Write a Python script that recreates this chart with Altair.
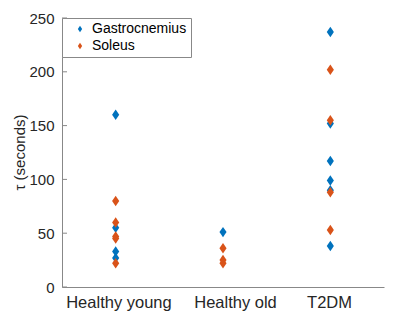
import altair as alt
import pandas as pd

categories = ["Healthy young", "Healthy old", "T2DM"]
series = ["Gastrocnemius", "Soleus"]
colors = ["#0072BD", "#D95319"]

# tau values (seconds) per group
gastro = {
    "Healthy young": [160, 55, 33, 27],
    "Healthy old": [51],
    "T2DM": [237, 152, 117, 99, 90, 38],
}
soleus = {
    "Healthy young": [80, 60, 47, 45, 22],
    "Healthy old": [36, 25, 22],
    "T2DM": [202, 155, 88, 53],
}
y_ticks = [0, 50, 100, 150, 200, 250]

rows = []
for name, d in [("Gastrocnemius", gastro), ("Soleus", soleus)]:
    for i, c in enumerate(categories):
        for v in d[c]:
            rows.append({"pos": i + 1, "group": c, "muscle": name, "tau": v})
df = pd.DataFrame(rows)
ticks_df = pd.DataFrame({"t": y_ticks})

diamond = "M0,-1L0.68,0L0,1L-0.68,0Z"
# label anchor positions along the axis (as in the reference, labels are not exactly centred on the groups)
label_positions = [1.026, 2.112, 2.988]
label_expr = ("round(datum.value) == 1 ? 'Healthy young' : round(datum.value) == 2 ? 'Healthy old' : "
              "round(datum.value) == 3 ? 'T2DM' : ''")

x_enc = alt.X(
    "pos:Q",
    scale=alt.Scale(domain=[0.5, 3.5], nice=False, zero=False),
    axis=alt.Axis(values=label_positions, labelExpr=label_expr, title=None, grid=False,
                  ticks=False, labelPadding=7, labelFontSize=16.5),
)
y_scale = alt.Scale(domain=[0, 250], nice=False)

points = alt.Chart(df).mark_point(filled=True, shape=diamond, size=110, opacity=1, strokeWidth=0).encode(
    x=x_enc,
    y=alt.Y("tau:Q", scale=y_scale,
            axis=alt.Axis(values=y_ticks, title="τ (seconds)", grid=False, ticks=False,
                          labelPadding=8, labelFontSize=15, titleFontSize=15,
                          titleFontWeight="normal", titleX=-43, titleY=134,
                          titleBaseline="middle", titleAngle=270)),
    color=alt.Color("muscle:N", scale=alt.Scale(domain=series, range=colors),
                    legend=alt.Legend(title=None, orient="none", legendX=0, legendY=0,
                                      strokeColor="#888888", fillColor="white", padding=4,
                                      symbolType=diamond, symbolSize=40, symbolOffset=7,
                                      labelOffset=5, labelFontSize=14, rowPadding=3,
                                      labelColor="#000000", symbolStrokeWidth=0)),
)

tick_marks = alt.Chart(ticks_df).mark_rule(color="#888888", strokeWidth=1).encode(
    y=alt.Y("t:Q", scale=y_scale),
    x=alt.value(0),
    x2=alt.value(5),
)

chart = alt.layer(tick_marks, points).properties(
    width=322, height=269,
    autosize=alt.AutoSizeParams(type="none"),
    padding={"left": 54, "top": 10, "right": 8, "bottom": 30},
).configure(
    font="Liberation Sans",
).configure_view(stroke=None).configure_axis(
    domainColor="#888888", labelColor="#262626", titleColor="#262626",
    labelFont="Liberation Sans", titleFont="Liberation Sans",
)

chart.save("out.html", embed_options={"renderer": "svg", "actions": False})
